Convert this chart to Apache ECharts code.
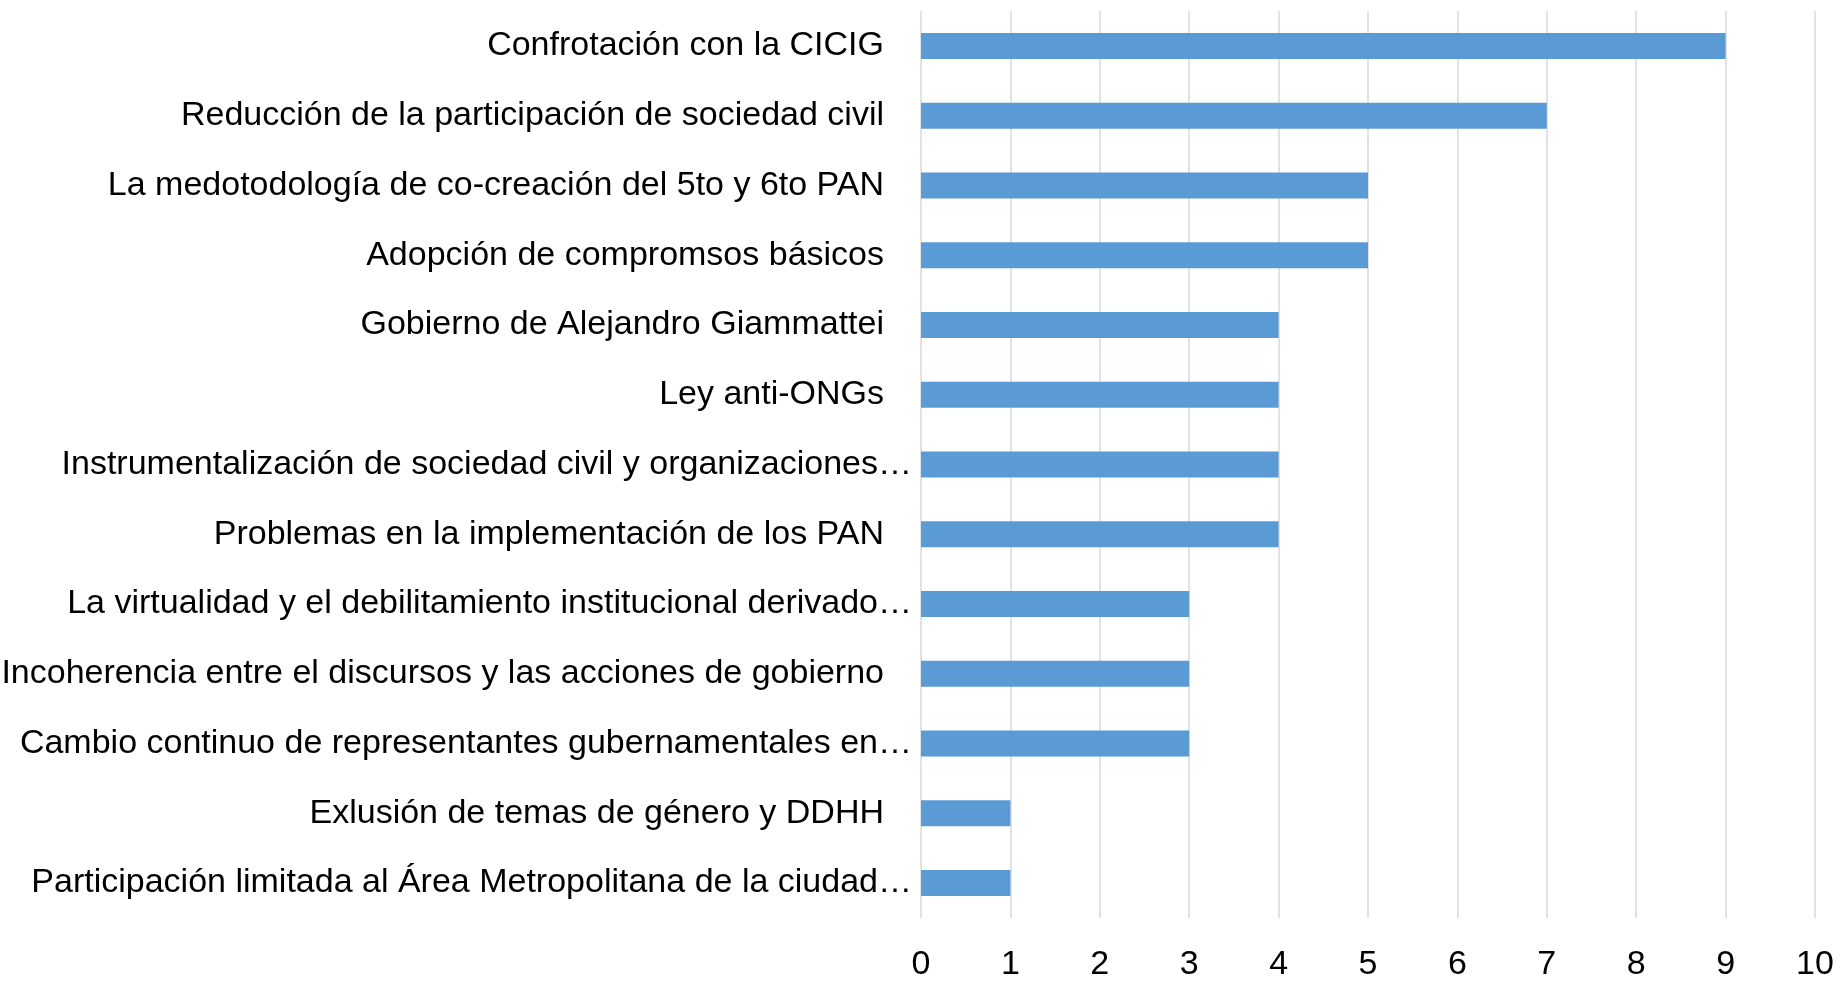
<!DOCTYPE html>
<html>
<head>
<meta charset="utf-8">
<script src="https://cdn.jsdelivr.net/npm/echarts@6/dist/echarts.min.js"></script>
<style>
  html, body { margin: 0; padding: 0; background: #ffffff; }
  #chart { width: 1841px; height: 983px; }
</style>
</head>
<body>
<div id="chart"></div>
<script>
  // categories, top to bottom as shown
  const categories = [
    'Confrotación con la CICIG',
    'Reducción de la participación de sociedad civil',
    'La medotodología de co-creación del 5to y 6to PAN',
    'Adopción de compromsos básicos',
    'Gobierno de Alejandro Giammattei',
    'Ley anti-ONGs',
    'Instrumentalización de sociedad civil y organizaciones…',
    'Problemas en la implementación de los PAN',
    'La virtualidad y el debilitamiento institucional derivado…',
    'Incoherencia entre el discursos y las acciones de gobierno',
    'Cambio continuo de representantes gubernamentales en…',
    'Exlusión de temas de género y DDHH',
    'Participación limitada al Área Metropolitana de la ciudad…'
  ];
  const counts = [9, 7, 5, 5, 4, 4, 4, 4, 3, 3, 3, 1, 1];
  const xMin = 0;
  const xMax = 10;
  const xStep = 1;

  const font = 'Liberation Sans, Arial, sans-serif';

  let myChart = echarts.init(document.getElementById('chart'));
  myChart.setOption({
    backgroundColor: '#ffffff',
    animation: false,
    grid: {
      left: 921,
      right: 26,
      top: 11,
      bottom: 65,
      containLabel: false,
      outerBoundsMode: 'none'
    },
    xAxis: {
      type: 'value',
      min: xMin,
      max: xMax,
      interval: xStep,
      axisLine: { show: false },
      axisTick: { show: false },
      splitLine: { show: true, lineStyle: { color: '#d9d9d9', width: 1.5 } },
      axisLabel: {
        margin: 30,
        color: '#000000',
        fontSize: 34,
        fontFamily: font
      }
    },
    yAxis: {
      type: 'category',
      inverse: true,
      data: categories,
      axisLine: { show: false },
      axisTick: { show: false },
      axisLabel: {
        margin: 9,
        color: '#000000',
        fontSize: 34,
        fontFamily: font,
        // labels cut off with an ellipsis sit closer to the axis
        formatter: function (v) {
          return v.endsWith('…') ? '{cut|' + v + '}' : '{full|' + v + '}';
        },
        rich: {
          cut: { fontSize: 34, color: '#000000', fontFamily: font },
          full: { fontSize: 34, color: '#000000', fontFamily: font, padding: [0, 28, 0, 0] }
        }
      }
    },
    series: [
      {
        name: 'count',
        type: 'bar',
        data: counts,
        barWidth: 26,
        itemStyle: { color: '#5b9bd5' }
      }
    ]
  });
</script>
</body>
</html>
